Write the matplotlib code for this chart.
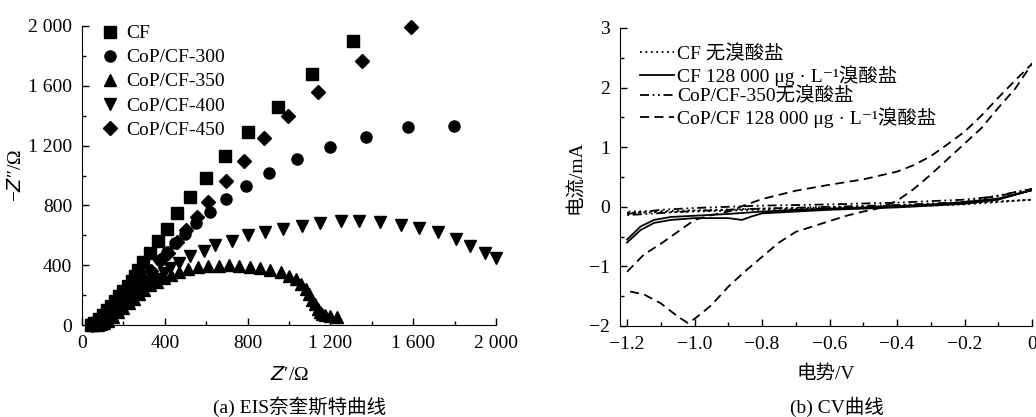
import matplotlib
matplotlib.use("Agg")
import matplotlib.pyplot as plt
from matplotlib.ticker import MultipleLocator, FuncFormatter

plt.rcParams['font.family'] = ['Liberation Serif', 'Noto Sans CJK SC', 'DejaVu Sans']
plt.rcParams['font.size'] = 14
plt.rcParams['axes.unicode_minus'] = True

# ---- (a) EIS Nyquist data: Z' (ohm), -Z'' (ohm) ----
cf_x = [45, 60, 80, 100, 120, 140, 160, 180, 200, 220, 240, 255, 271, 295, 328, 367, 411, 459, 522, 599, 691, 802, 947, 1111, 1309]
cf_y = [0, 15, 40, 70, 100, 130, 160, 195, 225, 260, 295, 330, 368, 421, 482, 562, 642, 749, 856, 983, 1130, 1291, 1458, 1679, 1900]

cop300_x = [50, 70, 95, 120, 145, 170, 195, 220, 245, 270, 300, 335, 377, 411, 449, 498, 551, 618, 696, 792, 903, 1039, 1198, 1372, 1575, 1797]
cop300_y = [0, 20, 45, 70, 95, 120, 150, 175, 205, 235, 270, 300, 435, 488, 548, 609, 682, 756, 843, 930, 1017, 1110, 1190, 1258, 1324, 1331]

cop350_x = [55, 75, 90, 105, 125, 150, 175, 200, 225, 250, 275, 300, 330, 360, 395, 430, 470, 510, 560, 610, 660, 710, 760, 810, 860, 910, 960, 1000, 1035, 1060, 1080, 1095, 1110, 1125, 1140, 1150, 1160, 1175, 1200, 1230]
cop350_y = [0, 3, 5, 12, 30, 55, 85, 115, 145, 175, 205, 235, 265, 290, 315, 335, 355, 372, 385, 392, 396, 398, 396, 390, 382, 370, 352, 330, 305, 275, 240, 205, 170, 140, 110, 90, 75, 65, 60, 55]

cop400_x = [50, 70, 95, 120, 150, 180, 210, 240, 270, 300, 330, 360, 395, 425, 469, 522, 589, 642, 725, 802, 884, 971, 1063, 1150, 1251, 1338, 1440, 1541, 1628, 1720, 1807, 1874, 1947, 2000]
cop400_y = [0, 15, 35, 60, 90, 120, 150, 185, 215, 250, 280, 310, 345, 381, 415, 462, 495, 535, 562, 602, 622, 642, 662, 682, 696, 696, 689, 669, 649, 622, 575, 528, 482, 450]

cop450_x = [50, 70, 95, 120, 145, 170, 195, 220, 245, 270, 300, 335, 377, 414, 458, 501, 554, 609, 695, 781, 879, 997, 1142, 1351, 1589]
cop450_y = [0, 20, 45, 75, 105, 135, 165, 195, 230, 260, 300, 360, 435, 482, 555, 635, 723, 823, 963, 1099, 1250, 1400, 1557, 1768, 1993]

eis_labels = ['CF', 'CoP/CF-300', 'CoP/CF-350', 'CoP/CF-400', 'CoP/CF-450']
eis_markers = ['s', 'o', '^', 'v', 'D']

# ---- (b) CV data: potential (V), current (mA), forward then reverse ----
cf_nb_v = [-1.2, -1.0, -0.8, -0.6, -0.4, -0.2, 0.0, -0.2, -0.4, -0.6, -0.8, -1.0, -1.2]
cf_nb_i = [-0.10, -0.08, -0.05, -0.03, 0.00, 0.04, 0.12, 0.06, 0.02, -0.01, -0.03, -0.06, -0.08]

cf_br_v = [-1.2, -1.16, -1.12, -1.07, -1.0, -0.9, -0.8, -0.7, -0.6, -0.5, -0.4, -0.3, -0.2, -0.1, 0.0,
           -0.1, -0.2, -0.3, -0.4, -0.5, -0.6, -0.7, -0.8, -0.83, -0.86, -0.9, -1.0, -1.07, -1.12, -1.16, -1.2]
cf_br_i = [-0.55, -0.33, -0.22, -0.17, -0.15, -0.12, -0.08, -0.05, -0.03, -0.01, 0.01, 0.04, 0.08, 0.14, 0.28,
           0.12, 0.05, 0.02, -0.01, -0.03, -0.05, -0.08, -0.11, -0.16, -0.22, -0.19, -0.19, -0.22, -0.27, -0.39, -0.60]

cop_nb_v = [-1.2, -1.1, -1.0, -0.8, -0.6, -0.4, -0.2, -0.1, 0.0, -0.2, -0.4, -0.6, -0.8, -1.0, -1.2]
cop_nb_i = [-0.12, -0.05, -0.02, 0.02, 0.04, 0.07, 0.12, 0.18, 0.30, 0.08, 0.03, 0.00, -0.03, -0.07, -0.14]

cop_br_v = [-1.2, -1.15, -1.1, -1.05, -1.0, -0.95, -0.9, -0.85, -0.8, -0.7, -0.6, -0.5, -0.4, -0.35, -0.3, -0.25, -0.2, -0.15, -0.1, -0.05, 0.0,
            -0.05, -0.1, -0.15, -0.2, -0.25, -0.3, -0.35, -0.4, -0.45, -0.5, -0.55, -0.6, -0.65, -0.7, -0.75, -0.8, -0.85, -0.9, -0.95, -1.0, -1.02, -1.05, -1.1, -1.15, -1.2]
cop_br_i = [-1.09, -0.80, -0.62, -0.42, -0.22, -0.14, -0.08, 0.03, 0.13, 0.27, 0.37, 0.46, 0.59, 0.70, 0.85, 1.05, 1.26, 1.53, 1.83, 2.12, 2.40,
            1.98, 1.66, 1.32, 1.06, 0.80, 0.54, 0.30, 0.10, -0.02, -0.08, -0.15, -0.24, -0.33, -0.42, -0.60, -0.84, -1.08, -1.34, -1.65, -1.88, -1.95, -1.84, -1.62, -1.47, -1.41]

cv_labels = ['CF 无溴酸盐', 'CF 128 000 μg · L⁻¹溴酸盐', 'CoP/CF-350无溴酸盐', 'CoP/CF 128 000 μg · L⁻¹溴酸盐']
cv_styles = [(0, (1, 2)), '-', (0, (5, 2, 1, 2, 1, 2)), (0, (5, 3))]

fig = plt.figure(figsize=(10.36, 4.17), dpi=100)

# ---------- (a) ----------
ax1 = fig.add_axes([82 / 1036, 1 - 325 / 417, 414 / 1036, 299 / 417])
for xs, ys, m, lab in zip([cf_x, cop300_x, cop350_x, cop400_x, cop450_x],
                          [cf_y, cop300_y, cop350_y, cop400_y, cop450_y],
                          eis_markers, eis_labels):
    ms = 7 if m == 'D' else 8
    ax1.plot(xs, ys, linestyle='none', marker=m, color='black', markersize=ms, label=lab, clip_on=False)
ax1.set_xlim(0, 2000)
ax1.set_ylim(0, 2000)
ax1.xaxis.set_major_locator(MultipleLocator(400))
ax1.xaxis.set_minor_locator(MultipleLocator(200))
ax1.yaxis.set_major_locator(MultipleLocator(400))
ax1.yaxis.set_minor_locator(MultipleLocator(200))
thousands = FuncFormatter(lambda v, p: f"{v:,.0f}".replace(",", " "))
ax1.xaxis.set_major_formatter(thousands)
ax1.yaxis.set_major_formatter(thousands)
ax1.set_xlabel("$Z$′/Ω", labelpad=10)
ax1.set_ylabel("−$Z$″/Ω", labelpad=2)
ax1.legend(loc='upper left', bbox_to_anchor=(0.02, 1.03), frameon=False,
           handletextpad=0.25, labelspacing=0.33, borderaxespad=0, handlelength=1.2)

# ---------- (b) ----------
ax2 = fig.add_axes([620 / 1036, 1 - 326 / 417, 412 / 1036, 298 / 417])
for vs, cs, ls, lab in zip([cf_nb_v, cf_br_v, cop_nb_v, cop_br_v],
                           [cf_nb_i, cf_br_i, cop_nb_i, cop_br_i],
                           cv_styles, cv_labels):
    ax2.plot(vs, cs, color='black', linestyle=ls, linewidth=1.3, label=lab)
ax2.set_xlim(-1.221, 0)
ax2.set_ylim(-2, 3)
ax2.xaxis.set_major_locator(MultipleLocator(0.2))
ax2.xaxis.set_minor_locator(MultipleLocator(0.1))
ax2.yaxis.set_major_locator(MultipleLocator(1))
ax2.yaxis.set_minor_locator(MultipleLocator(0.5))
ax2.xaxis.set_major_formatter(FuncFormatter(lambda v, p: "0" if abs(v) < 1e-9 else f"{v:.1f}".replace("-", "−")))
ax2.set_xlabel("电势/V", labelpad=9)
ax2.set_ylabel("电流/mA", labelpad=4)
ax2.legend(loc='upper left', bbox_to_anchor=(0.03, 0.97), frameon=False, fontsize=14,
           handletextpad=0.15, labelspacing=0.08, borderaxespad=0, handlelength=1.75)

for ax in (ax1, ax2):
    ax.spines['top'].set_visible(False)
    ax.spines['right'].set_visible(False)
    ax.tick_params(which='major', direction='in', length=5, width=1, pad=7)
    ax.tick_params(which='minor', direction='in', length=3, width=1)

fig.text(300 / 1036, 1 - 407 / 417, "(a) EIS奈奎斯特曲线", ha='center', va='center', fontsize=14)
fig.text(837 / 1036, 1 - 407 / 417, "(b) CV曲线", ha='center', va='center', fontsize=14)

fig.savefig("out.png", dpi=100)
